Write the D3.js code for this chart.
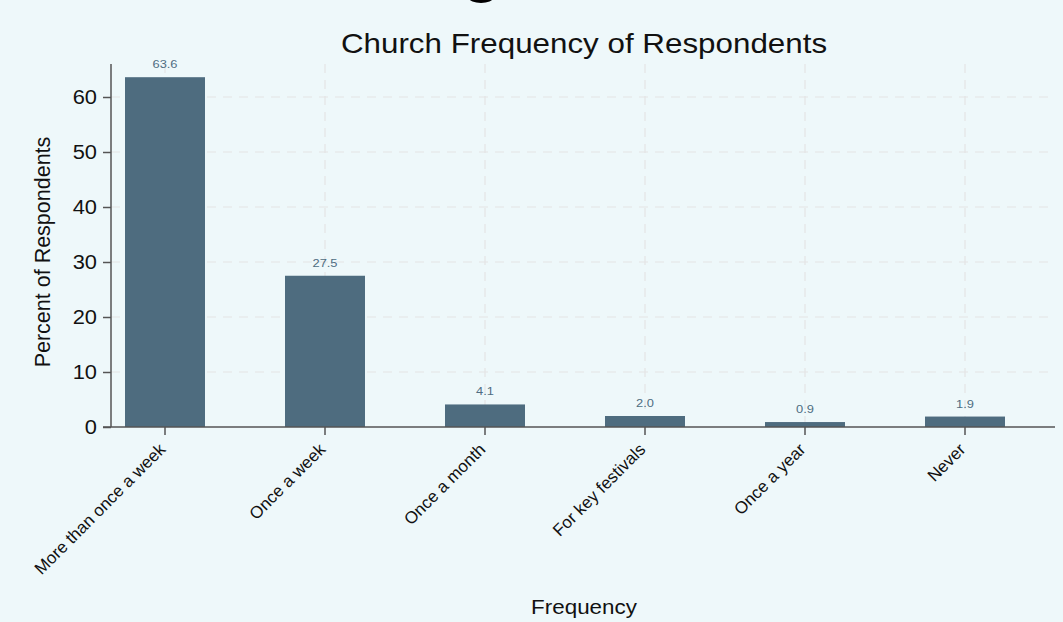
<!DOCTYPE html>
<html><head><meta charset="utf-8">
<script src="https://cdn.jsdelivr.net/npm/d3@7"></script>
<style>
html,body{margin:0;padding:0;background:#eef8fa;}
svg{display:block;}
text{font-family:"Liberation Sans",Arial,Helvetica,sans-serif;}
</style></head>
<body>
<svg id="chart" width="1063" height="622"></svg>
<script>
const categories = ["More than once a week","Once a week","Once a month","For key festivals","Once a year","Never"];
const values = [63.6, 27.5, 4.1, 2.0, 0.9, 1.9];
const yTicks = [0,10,20,30,40,50,60];
const title = "Church Frequency of Respondents";
const yTitle = "Percent of Respondents";
const xTitle = "Frequency";

const svg = d3.select("#chart");
const W = 1063, H = 622;
const SX = 1.12; // horizontal stretch of the reference's text
svg.append("rect").attr("width",W).attr("height",H).attr("fill","#eef8fa");
// partial glyph at top edge
svg.append("ellipse").attr("cx",481).attr("cy",-2).attr("rx",12).attr("ry",5).attr("fill","#000");

const x = d3.scaleBand().domain(categories).range([85,1045]).paddingInner(0.5).paddingOuter(0.25);
const y = d3.scaleLinear().domain([0,66]).range([427,64]);
const axisLeft = 111, axisRight = 1055;

// gridlines
const grid = svg.append("g").attr("stroke","#e4e4e4").attr("stroke-width",1.2).attr("stroke-dasharray","9,7");
grid.selectAll(".h").data(yTicks.filter(d=>d>0)).join("line")
  .attr("x1",axisLeft).attr("x2",1050).attr("y1",d=>y(d)).attr("y2",d=>y(d));
grid.selectAll(".v").data(categories).join("line")
  .attr("x1",d=>x(d)+x.bandwidth()/2).attr("x2",d=>x(d)+x.bandwidth()/2)
  .attr("y1",y(66)).attr("y2",y(0));

// bars
svg.selectAll(".bar").data(values).join("rect")
  .attr("x",(d,i)=>x(categories[i])).attr("width",x.bandwidth())
  .attr("y",d=>y(d)).attr("height",d=>y(0)-y(d))
  .attr("fill","#4e6c7f");

// value labels
svg.selectAll(".vl").data(values).join("text")
  .attr("transform",(d,i)=>`translate(${x(categories[i])+x.bandwidth()/2},${y(d)-9}) scale(${SX},1)`)
  .attr("text-anchor","middle").attr("font-size",11.5).attr("fill","#4f6d82")
  .text(d=>d.toFixed(1));

// y axis
const ya = svg.append("g").attr("transform",`translate(${axisLeft},0)`)
  .call(d3.axisLeft(y).tickValues(yTicks).tickSize(8).tickPadding(5));
ya.select(".domain").remove();
ya.selectAll(".tick line").attr("stroke","#555").attr("stroke-width",1.5);
ya.selectAll(".tick text").attr("font-size",19.5).attr("fill","#111")
  .attr("font-family","Liberation Sans, Arial, sans-serif")
  .attr("x",null).attr("transform",`translate(-14,0) scale(${SX},1)`);
svg.append("line").attr("x1",axisLeft).attr("x2",axisLeft).attr("y1",y(66)).attr("y2",y(0))
  .attr("stroke","#555").attr("stroke-width",1.5);

// x axis
const xa = svg.append("g").attr("transform",`translate(0,${y(0)})`)
  .call(d3.axisBottom(x).tickSize(8).tickPadding(4));
xa.select(".domain").remove();
xa.selectAll(".tick line").attr("stroke","#555").attr("stroke-width",1.5);
xa.selectAll(".tick text").attr("font-size",17).attr("fill","#111")
  .attr("font-family","Liberation Sans, Arial, sans-serif")
  .attr("text-anchor","end").attr("dy",null)
  .attr("transform","translate(-7,15) rotate(-45)");
svg.append("line").attr("x1",axisLeft-8).attr("x2",axisRight).attr("y1",y(0)).attr("y2",y(0))
  .attr("stroke","#555").attr("stroke-width",1.5);

// titles
svg.append("text").attr("transform",`translate(584,53) scale(${SX},1)`).attr("text-anchor","middle")
  .attr("font-size",28).attr("fill","#111").text(title);
svg.append("text").attr("transform","translate(50,252) rotate(-90)").attr("text-anchor","middle")
  .attr("font-size",21.5).attr("fill","#111").text(yTitle);
svg.append("text").attr("transform",`translate(584,614) scale(${SX},1)`).attr("text-anchor","middle")
  .attr("font-size",20).attr("fill","#111").text(xTitle);
</script>
</body></html>
